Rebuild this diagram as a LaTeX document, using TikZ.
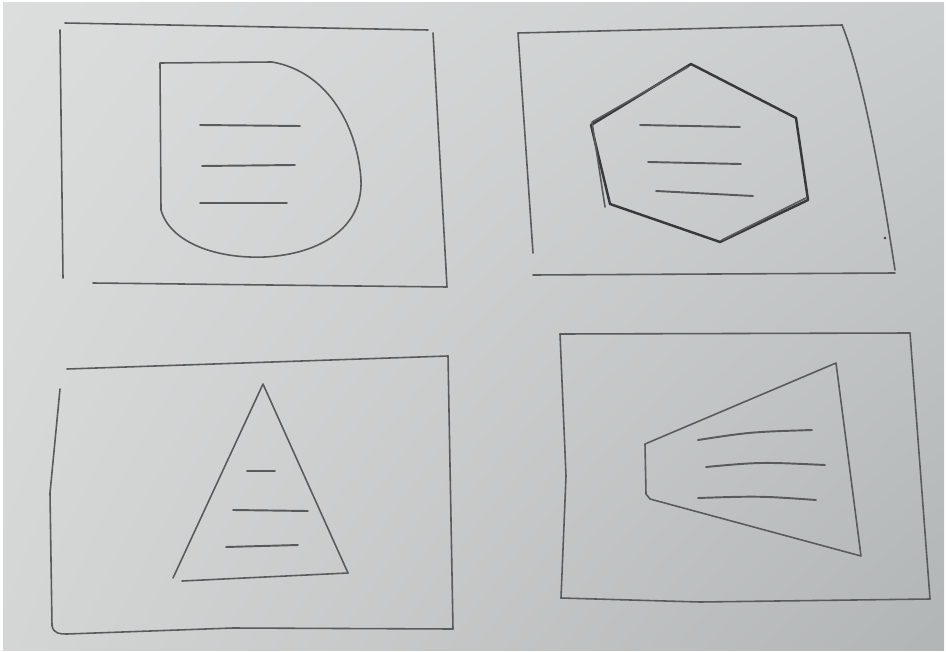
\documentclass[tikz,border=0pt]{standalone}
\usetikzlibrary{calc, shadings}

\definecolor{paperul}{RGB}{220,222,222}
\definecolor{paperur}{RGB}{202,205,205}
\definecolor{paperll}{RGB}{212,214,214}
\definecolor{paperlr}{RGB}{178,181,181}
\definecolor{graphite}{RGB}{88,90,92}
\definecolor{darkgraphite}{RGB}{55,57,59}

\begin{document}
\begin{tikzpicture}[
	x=0.02cm, y=-0.02cm,
	pencil/.style={
		draw=graphite,
		line width=0.9pt,
		line cap=round,
		line join=round
	},
	boldpencil/.style={
		draw=darkgraphite,
		line width=1.4pt,
		line cap=round,
		line join=round
	},
	textline/.style={
		draw=graphite,
		line width=1.1pt,
		line cap=round
	}
	]
	
	% ======================
	% Paper
	% ======================
	\useasboundingbox (0,0) rectangle (946,652);
	\fill[white] (0,0) rectangle (946,652);
	\shade[upper left=paperul, upper right=paperur, lower left=paperll, lower right=paperlr]
		(3,3) rectangle (944,650);
	
	% ======================
	% Top left: drop
	% ======================
	\draw[pencil] (65,23) -- (428,30);
	\draw[pencil] (433,33) -- (447,287);
	\draw[pencil] (93,283) -- (447,287);
	\draw[pencil] (60,30) -- (63,278);
	
	\draw[pencil] (161,210) -- (160,63) -- (272,62)
		.. controls (330,72) and (358,130) .. (361,180)
		.. controls (363,228) and (320,254) .. (265,257)
		.. controls (215,259) and (170,242) .. (161,210);
	
	\draw[textline] (200,125) -- (300,126);
	\draw[textline] (202,166) -- (295,165);
	\draw[textline] (200,203) -- (287,203);
	
	% ======================
	% Top right: hexagon
	% ======================
	\draw[pencil] (518,33) -- (842,25);
	\draw[pencil] (842,25) .. controls (862,75) and (878,160) .. (895,270);
	\draw[pencil] (533,275) -- (895,273);
	\draw[pencil] (518,33) -- (533,253);
	\fill[darkgraphite] (885,238) circle (1.3);
	
	\draw[boldpencil] (691,64) -- (796,118) -- (808,200) -- (720,242)
		-- (610,204) -- (591,125) -- cycle;
	\draw[pencil] (688,67) -- (592,122) -- (605,207);
	\draw[pencil] (722,240) -- (806,198);
	
	\draw[textline] (640,125) -- (740,127);
	\draw[textline] (648,162) -- (741,164);
	\draw[textline] (656,191) -- (753,196);
	
	% ======================
	% Bottom left: triangle
	% ======================
	\draw[pencil] (67,369) -- (448,356);
	\draw[pencil] (448,356) -- (453,629);
	\draw[pencil] (60,389) -- (50,493) -- (52,626)
		.. controls (54,634) and (60,634) .. (67,634)
		-- (233,628) -- (453,629);
	
	\draw[pencil] (173,578) -- (263,384) -- (348,573);
	\draw[pencil] (182,581) -- (348,573);
	
	\draw[textline] (247,471) -- (275,471);
	\draw[textline] (233,510) -- (308,511);
	\draw[textline] (226,547) -- (298,545);
	
	% ======================
	% Bottom right: trapezoid
	% ======================
	\draw[pencil] (560,334) -- (910,333);
	\draw[pencil] (910,333) -- (930,599);
	\draw[pencil] (561,598) -- (700,602) -- (930,599);
	\draw[pencil] (560,334) -- (566,476) -- (561,598);
	
	\draw[pencil] (646,494) -- (645,444) -- (836,363) -- (861,556)
		-- (650,499) -- cycle;
	
	\draw[textline] (698,440) .. controls (750,432) .. (812,430);
	\draw[textline] (706,467) .. controls (760,462) .. (825,465);
	\draw[textline] (698,498) .. controls (760,496) .. (816,500);
	
\end{tikzpicture}
\end{document}
